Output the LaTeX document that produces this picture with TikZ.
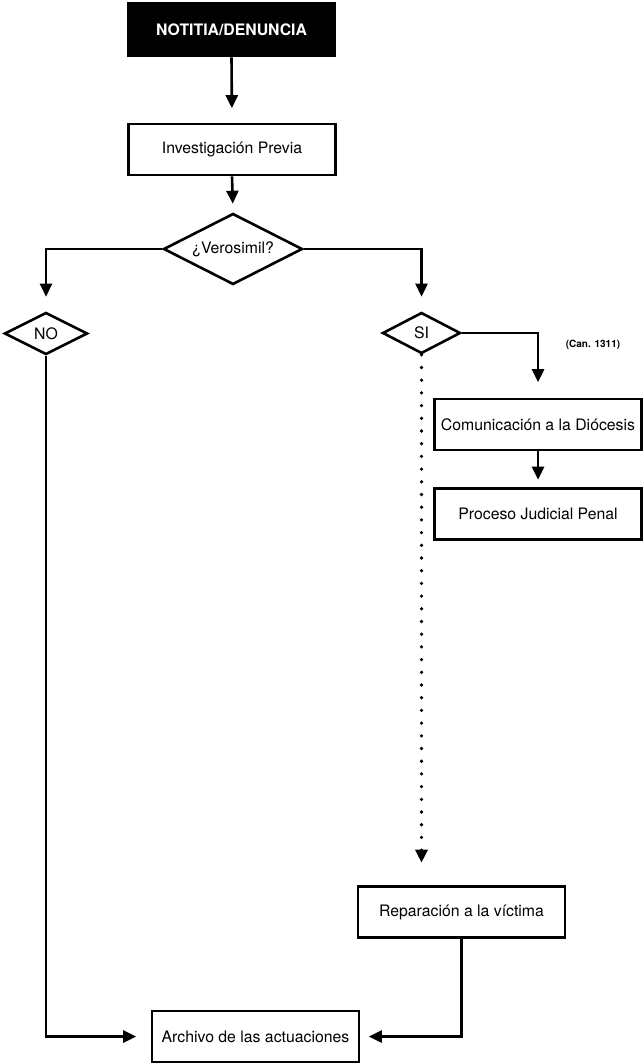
\documentclass[tikz,border=0pt]{standalone}
\usepackage{fontspec}
\setmainfont{TeX Gyre Heros}
\usetikzlibrary{shapes.geometric,arrows.meta}

\begin{document}
\begin{tikzpicture} [x=1pt,y=-1pt,line width=2.6pt,
			>={Triangle[length=13pt,width=12pt]},
			every node/.style={font=\fontsize{15.8}{19}\selectfont},
			paso/.style={draw,rectangle,minimum width=207pt,minimum height=51pt,inner sep=0pt},
			inicio/.style={paso,minimum height=53pt,fill=black,text=white,font=\fontsize{15.8}{19}\selectfont\bfseries},
			pregunta/.style={draw,diamond,inner sep=0pt,aspect=2},
			flujo/.style={->},
			punteado/.style={flujo,line width=3.6pt,line cap=round,dash pattern=on 0pt off 12.7pt}
			]
		\useasboundingbox (0,0) rectangle (644,1064);
		%\draw[step=50pt, color=gray] (0,0) grid (644,1064);
		\node [inicio] (notitia) at (231.5,29.5) {NOTITIA/DENUNCIA};
		\node [paso] (previa) at (232,149.5) {Investigación Previa};
		\node [pregunta, minimum width=139pt, minimum height=71pt] (verosimil) at (233,249) {¿Verosimil?};
		\node [pregunta, minimum width=83pt, minimum height=42pt] (no) at (46,333.5) {NO};
		\node [pregunta, minimum width=78pt, minimum height=41pt] (si) at (421.5,333) {SI};
		\node [font=\fontsize{10}{12}\selectfont\bfseries] (canon) at (593,345) {(Can. 1311)};
		\node [paso] (comunicacion) at (538,424.5) {Comunicación a la Diócesis};
		\node [paso] (proceso) at (538,514) {Proceso Judicial Penal};
		\node [paso] (reparacion) at (461.5,912) {Reparación a la víctima};
		\node [paso] (archivo) at (255.5,1036.5) {Archivo de las actuaciones};

		\draw [flujo, shorten >=14.5pt] (notitia.south) -- (previa.north);
		\draw [flujo, shorten >=8.5pt] (previa.south) -- (verosimil.north);
		\draw [flujo, shorten >=14.5pt] (verosimil.west) -| (no.north);
		\draw [flujo, shorten >=14.5pt] (verosimil.east) -| (si.north);
		\draw [flujo, shorten >=15.5pt] (si.east) -| (comunicacion.north);
		\draw [flujo, shorten >=7.5pt] (comunicacion.south) -- (proceso.north);
		\draw [punteado, shorten >=22.5pt] (si.south) -- (si.south |- reparacion.north); %dotted
		\draw [flujo, shorten >=8.5pt] (reparacion.south) |- (archivo.east);
		\draw [flujo, shorten >=14.5pt] (no.south) |- (archivo.west);
		\end{tikzpicture}
\end{document}
